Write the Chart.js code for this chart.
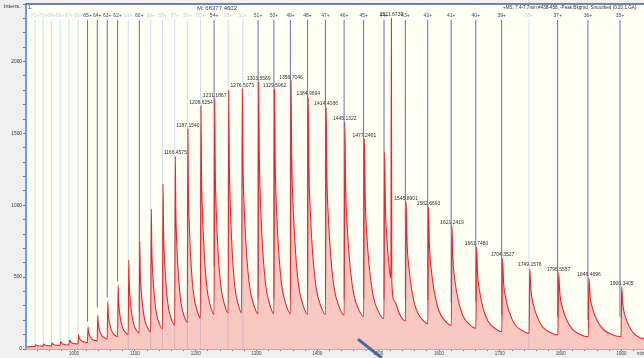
<!DOCTYPE html>
<html>
<head>
<meta charset="utf-8">
<script src="https://cdn.jsdelivr.net/npm/chart.js@4/dist/chart.umd.min.js"></script>
<style>
  html, body { margin: 0; padding: 0; background: #f0f0f0; }
  #wrap { width: 644px; height: 358px; }
</style>
</head>
<body>
<div id="wrap"><canvas id="spectrumChart"></canvas></div>
<script>
// profile trace (m/z, intensity), one line per charge-state peak
const specMz = [
  923, 935.5, 936.5, 939.2, 949, 950, 952.8, 962.8, 963.8, 966.6, 977, 978, 980.9, 991.5, 992.5, 995.5,
  1006.5, 1007.5, 1008.1, 1009.4, 1011.4, 1014.5, 1018.4,
  1022, 1023, 1023.6, 1024.9, 1027, 1030.2, 1034.2,
  1038, 1039, 1039.7, 1041, 1043.1, 1046.4, 1050.6,
  1054.5, 1055.5, 1056.2, 1057.5, 1059.8, 1063.2, 1067.4,
  1071.5, 1072.5, 1073.2, 1074.6, 1076.9, 1080.4, 1084.8,
  1089, 1090, 1090.7, 1092.2, 1094.5, 1098.1, 1102.6,
  1107, 1108, 1108.8, 1110.3, 1112.8, 1116.6, 1121.3,
  1126, 1127, 1127.8, 1129.3, 1131.8, 1135.7, 1140.5,
  1145.3, 1146.3, 1147.1, 1148.7, 1151.3, 1155.4, 1160.4,
  1165.5, 1166.4575, 1167.3, 1168.9, 1171.6, 1175.8, 1180.9,
  1186.2, 1187.154, 1188, 1189.7, 1192.5, 1196.8, 1202.2,
  1207.7, 1208.6254, 1209.5, 1211.3, 1214.3, 1218.8, 1224.4,
  1230.2, 1231.1867, 1232.1, 1233.9, 1236.9, 1241.6, 1247.4,
  1253.3, 1254.3, 1255.2, 1257, 1259.9, 1264.3, 1269.8,
  1275.5, 1276.5073, 1277.6, 1279.8, 1283.3, 1288.7, 1295.4,
  1302.5, 1303.5569, 1304.6, 1306.7, 1310.1, 1315.3, 1321.8,
  1328.6, 1329.5962, 1330.7, 1332.8, 1336.4, 1341.8, 1348.6,
  1355.7, 1356.7046, 1357.8, 1360.1, 1363.8, 1369.4, 1376.5,
  1384, 1384.9694, 1386.1, 1388.5, 1392.3, 1398.2, 1405.6,
  1413.4, 1414.4086, 1415.6, 1418.1, 1422.1, 1428.2, 1435.9,
  1444.1, 1445.1322, 1446.4, 1449, 1453.2, 1459.6, 1467.6,
  1476.2, 1477.2461, 1478.6, 1481.2, 1485.6, 1492.2, 1500.5,
  1509.5, 1510.5, 1511.9, 1514.7, 1519.35, 1520.9, 1521.6739, 1522.4, 1526.4, 1535.3,
  1544.9, 1545.8901, 1547.4, 1550.3, 1555.1, 1562.4, 1571.6,
  1581.7, 1582.6693, 1584.2, 1587.3, 1592.3, 1600, 1609.7,
  1620.2, 1621.2419, 1622.9, 1626.1, 1631.4, 1639.5, 1649.6,
  1660.7, 1661.748, 1663.4, 1666.9, 1672.4, 1680.9, 1691.6,
  1703.3, 1704.3527, 1706.1, 1709.7, 1715.6, 1724.5, 1735.7,
  1748.1, 1749.1576, 1751.1, 1754.8, 1761, 1770.5, 1782.3,
  1795.5, 1796.5557, 1798.6, 1802.5, 1809, 1819, 1831.5,
  1845.4, 1846.4696, 1848.6, 1852.9, 1859.9, 1870.7, 1884.2,
  1899.3, 1900.3405, 1902.1, 1905.7, 1911.6, 1920.6, 1931.8, 1937
];
const specInt = [
  15, 18, 30, 23, 20, 35, 26, 22, 42, 30, 25, 52, 35, 28, 62, 43,
  35, 100, 82, 71, 60, 52, 47,
  45, 155, 123, 102, 83, 67, 59,
  55, 235, 182, 148, 116, 90, 77,
  70, 330, 252, 200, 154, 114, 95,
  85, 445, 335, 262, 197, 141, 114,
  100, 620, 457, 350, 253, 171, 130,
  110, 745, 545, 414, 295, 195, 145,
  120, 975, 708, 532, 374, 240, 173,
  140, 1150, 835, 628, 441, 283, 204,
  165, 1340, 970, 728, 508, 324, 231,
  185, 1530, 1109, 833, 583, 373, 268,
  215, 1690, 1226, 922, 646, 414, 298,
  240, 1735, 1260, 948, 666, 428, 309,
  250, 1800, 1304, 979, 684, 436, 312,
  250, 1810, 1309, 981, 683, 433, 308,
  245, 1856, 1340, 1002, 696, 438, 309,
  245, 1805, 1306, 978, 682, 432, 307,
  245, 1866, 1346, 1004, 695, 435, 305,
  240, 1750, 1267, 950, 663, 421, 300,
  240, 1683, 1220, 916, 640, 409, 293,
  235, 1578, 1145, 861, 604, 387, 279,
  225, 1463, 1062, 799, 561, 360, 260,
  210, 1370, 994, 747, 524, 495, 2300, 470, 336, 242,
  195, 1023, 752, 574, 412, 277, 209,
  175, 988, 725, 552, 395, 264, 198,
  165, 854, 627, 478, 344, 230, 173,
  145, 711, 522, 398, 285, 191, 144,
  120, 630, 464, 354, 256, 172, 131,
  110, 560, 412, 315, 227, 153, 116,
  97, 530, 388, 294, 210, 138, 103,
  85, 491, 361, 276, 199, 134, 101,
  85, 433, 314, 236, 166, 107, 77, 70
];

// charge ladder of the deconvoluted mass
const chargeStates = [71, 70, 69, 68, 67, 66, 65, 64, 63, 62, 61, 60, 59, 58, 57, 56, 55, 54, 53,
  52, 51, 50, 49, 48, 47, 46, 45, 44, 43, 42, 41, 40, 39, 38, 37, 36, 35];
const chargeMz = [935.9, 949.26, 963.0, 977.15, 991.72, 1006.72, 1022.2, 1038.16, 1054.62, 1071.61,
  1089.15, 1107.3, 1126.05, 1145.45, 1165.53, 1186.32, 1207.87, 1230.22, 1253.41, 1277.5,
  1302.53, 1328.56, 1355.65, 1383.87, 1413.3, 1444.0, 1476.06, 1509.59, 1544.67, 1581.42,
  1619.97, 1660.44, 1703.0, 1747.79, 1795.0, 1844.83, 1897.51];
const chargeFound = [0, 0, 0, 0, 0, 0, 1, 1, 1, 1, 0, 1, 0, 0, 0, 0, 0, 1, 0,
  0, 1, 1, 1, 1, 1, 1, 1, 1, 1, 1, 1, 1, 1, 0, 1, 1, 1];
const chargeLineEnd = [0, 0, 0, 0, 0, 0, 190, 290, 360, 470, 0, 260, 0, 0, 0, 0, 0, 580, 0,
  0, 350, 350, 350, 350, 350, 350, 350, 350, 350, 340, 320, 330, 236, 0, 224, 201, 224];

// labelled peaks
const peakLabels = ["1166.4575", "1187.1540", "1208.6254", "1231.1867", "1276.5073", "1303.5569",
  "1329.5962", "1356.7046", "1384.9694", "1414.4086", "1445.1322", "1477.2461", "1521.6739",
  "1545.8901", "1582.6693", "1621.2419", "1661.7480", "1704.3527", "1749.1576", "1796.5557",
  "1846.4696", "1900.3405"];

const deconvMass = "M: 66377.4602";
const spectrumTitle = "+MS, 7.4-7.7min #438-458, -Peak Bkgrnd, Smoothed (0.20,1,GA)";

document.addEventListener("DOMContentLoaded", () => {
  const ladderTop = 2290;
  const font = "'Liberation Sans', Arial, sans-serif";

  const ladder = (found) => {
    const pts = [];
    chargeMz.forEach((mz, i) => {
      if (chargeFound[i] !== found) return;
      pts.push({ x: mz, y: chargeLineEnd[i] }, { x: mz, y: ladderTop }, { x: mz, y: null });
    });
    return pts;
  };

  const decor = {
    id: "decor",
    beforeDraw(chart) {
      const { ctx, chartArea: a } = chart;
      ctx.save();
      ctx.fillStyle = "#f0f0f0";
      ctx.fillRect(0, 0, chart.width, chart.height);
      ctx.fillStyle = "#fffff4";
      ctx.fillRect(a.left, a.top, a.right - a.left, a.bottom - a.top);
      ctx.restore();
    },
    afterDatasetsDraw(chart) {
      const { ctx, chartArea: a, scales: { x, y } } = chart;
      ctx.save();
      ctx.beginPath();
      ctx.rect(a.left, a.top, a.right - a.left, a.bottom - a.top);
      ctx.clip();
      ctx.textAlign = "center";
      ctx.textBaseline = "middle";
      ctx.font = "5px " + font;
      chargeStates.forEach((z, i) => {
        ctx.fillStyle = chargeFound[i] ? "#3c3c92" : "#b4d4ee";
        ctx.fillText(z + "+", x.getPixelForValue(chargeMz[i]), y.getPixelForValue(ladderTop) - 4);
      });
      ctx.fillStyle = "#333";
      ctx.textBaseline = "bottom";
      peakLabels.forEach((lab) => {
        const mz = parseFloat(lab);
        const idx = specMz.indexOf(mz);
        ctx.fillText(lab, x.getPixelForValue(mz), y.getPixelForValue(specInt[idx]) - 1);
      });
      ctx.restore();

      ctx.save();
      ctx.strokeStyle = "#45608c";
      ctx.lineWidth = 1.5;
      ctx.beginPath();
      ctx.moveTo(a.left, a.top);
      ctx.lineTo(a.right, a.top);
      ctx.stroke();

      ctx.fillStyle = "#333";
      ctx.textBaseline = "middle";
      ctx.font = "5.5px " + font;
      ctx.fillText("Intens.", 4, 6);
      ctx.font = "5px " + font;
      ctx.fillText("1.", a.left + 2, 8);
      ctx.fillStyle = "#2b3f7a";
      ctx.font = "6px " + font;
      ctx.fillText(deconvMass, 197, 8);
      ctx.fillStyle = "#333";
      ctx.font = "4.6px " + font;
      ctx.fillText(spectrumTitle, 503, 8);
      ctx.fillText("m/z", 637, 354);

      // cursor stroke at the bottom
      ctx.strokeStyle = "#3d6aa8";
      ctx.lineWidth = 3;
      ctx.beginPath();
      ctx.moveTo(x.getPixelForValue(1466.6), y.getPixelForValue(69));
      ctx.lineTo(x.getPixelForValue(1506), y.getPixelForValue(-62));
      ctx.stroke();
      ctx.restore();
    },
  };

  new Chart(document.getElementById("spectrumChart").getContext("2d"), {
    type: "line",
    data: {
      datasets: [
        {
          label: "spectrum",
          data: specMz.map((mz, i) => ({ x: mz, y: specInt[i] })),
          borderColor: "#e8262e",
          borderWidth: 1.1,
          backgroundColor: "rgba(240, 110, 110, 0.38)",
          fill: "origin",
          pointRadius: 0,
          cubicInterpolationMode: "monotone",
          order: 0,
        },
        {
          label: "assigned",
          data: ladder(1),
          borderColor: "#6a6ab8",
          borderWidth: 1,
          pointRadius: 0,
          spanGaps: false,
          fill: false,
          order: 1,
        },
        {
          label: "unassigned",
          data: ladder(0),
          borderColor: "#c9e0f4",
          borderWidth: 1,
          pointRadius: 0,
          spanGaps: false,
          fill: false,
          order: 2,
        },
      ],
    },
    options: {
      responsive: true,
      maintainAspectRatio: false,
      animation: false,
      layout: { padding: { top: 4, left: 0, right: 0, bottom: 0 } },
      plugins: { legend: { display: false }, tooltip: { enabled: false } },
      scales: {
        x: {
          type: "linear",
          min: 921,
          max: 1937,
          afterFit: (s) => { s.height = 9; },
          ticks: {
            stepSize: 20,
            includeBounds: false,
            autoSkip: false,
            maxRotation: 0,
            padding: 0,
            color: "#444",
            font: { size: 4.5, family: font },
            callback: (v) => (v % 100 === 0 ? String(v) : ""),
          },
          grid: { drawOnChartArea: false, tickLength: 2, color: "#777" },
          border: { color: "#9fb2c9", width: 1 },
        },
        y: {
          min: 0,
          max: 2400,
          afterFit: (s) => { s.width = 26; },
          ticks: {
            stepSize: 100,
            includeBounds: false,
            autoSkip: false,
            padding: 1,
            color: "#333",
            font: { size: 4.8, family: font },
            callback: (v) => (v % 500 === 0 ? String(v) : ""),
          },
          grid: { drawOnChartArea: false, tickLength: 3, color: "#777" },
          border: { color: "#6a9fd8", width: 2 },
        },
      },
    },
    plugins: [decor],
  });
});
</script>
</body>
</html>
